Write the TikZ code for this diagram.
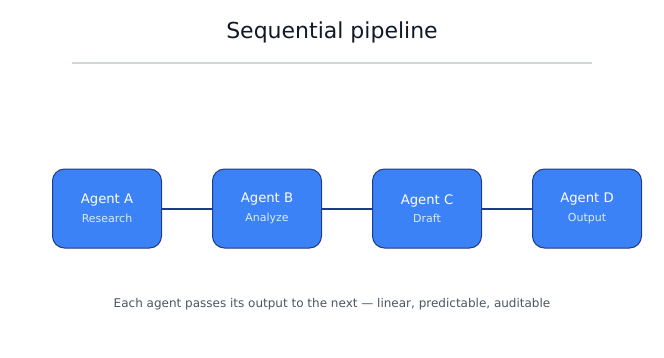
\documentclass[tikz,border=0pt]{standalone}
\usepackage{fontspec}
\setmainfont{DejaVu Sans}
\usepackage{xcolor}
\usetikzlibrary{positioning}
\definecolor{pblue}{HTML}{3B82F6}
\definecolor{pedge}{HTML}{1E3A8A}
\definecolor{pnavy}{HTML}{1E3A8A}
\definecolor{ptitle}{HTML}{111827}
\definecolor{prule}{HTML}{D1D5DB}
\definecolor{pgray}{HTML}{4B5563}
\definecolor{psub}{HTML}{DBEAFE}
\tikzset{
  agent/.style={rectangle, rounded corners=12pt, draw=pedge, line width=1pt, fill=pblue,
                text=white, minimum width=109pt, minimum height=79pt, align=center,
                font=\fontsize{13.2}{18.5}\selectfont},
  link/.style={draw=pnavy, line width=2pt}
}
\newcommand{\role}[1]{{\fontsize{11}{12}\selectfont\color{psub}#1}}

\begin{document}
\begin{tikzpicture}[x=1pt, y=-1pt]
  \useasboundingbox (0,0) rectangle (664,357);
  % title
  \node[text=ptitle, font=\fontsize{22}{24}\selectfont] (title) at (332,32) {Sequential pipeline};
  \draw[prule, line width=1.2pt] (72,63) -- (592,63);

  % agents
  \node[agent] (agA) at (107,208.5) {Agent A\\\role{Research}};
  \node[agent, right=50pt of agA] (agB) {Agent B\\\role{Analyze}};
  \node[agent, right=50pt of agB] (agC) {Agent C\\\role{Draft}};
  \node[agent, right=50pt of agC] (agD) {Agent D\\\role{Output}};

  \draw[link] (agA) -- (agB);
  \draw[link] (agB) -- (agC);
  \draw[link] (agC) -- (agD);

  \node[text=pgray, font=\fontsize{12}{14}\selectfont] (note) at (332,304)
    {Each agent passes its output to the next --- linear, predictable, auditable};
\end{tikzpicture}
\end{document}
